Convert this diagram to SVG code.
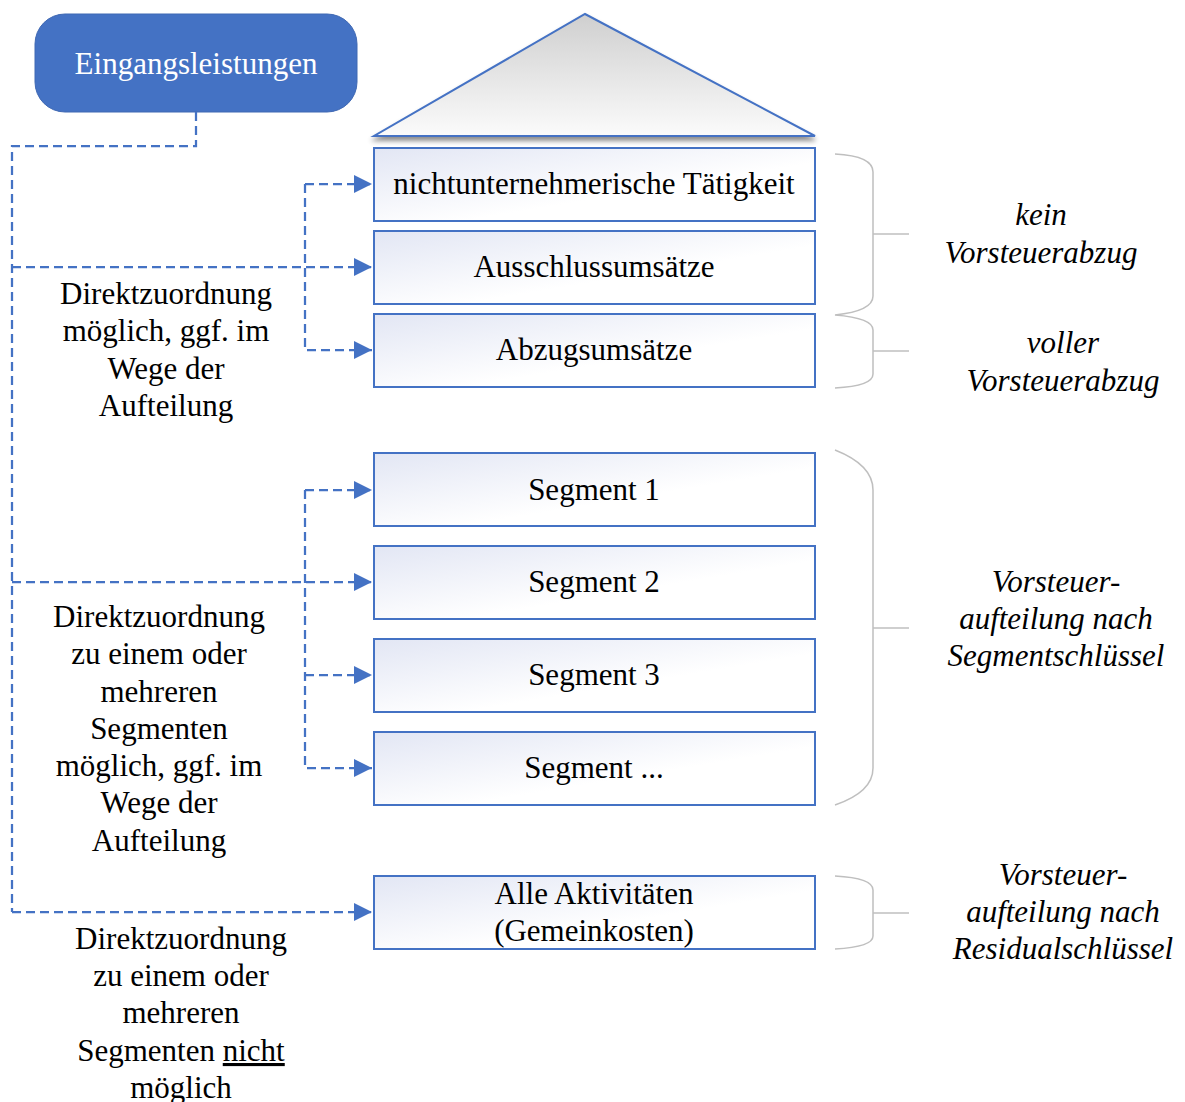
<svg xmlns="http://www.w3.org/2000/svg" width="1185" height="1102" viewBox="0 0 1185 1102">
<defs>
<linearGradient id="boxg" x1="0" y1="0" x2="1" y2="1">
<stop offset="0" stop-color="#e2e6f4"/>
<stop offset="0.6" stop-color="#ffffff"/>
<stop offset="1" stop-color="#ffffff"/>
</linearGradient>
<linearGradient id="roofg" x1="0" y1="0" x2="0" y2="1">
<stop offset="0" stop-color="#cfcfcf"/>
<stop offset="1" stop-color="#fbfbfb"/>
</linearGradient>
<filter id="sh" x="-10%" y="-10%" width="120%" height="130%">
<feGaussianBlur in="SourceAlpha" stdDeviation="2.5"/>
<feOffset dx="0" dy="4"/>
<feComponentTransfer><feFuncA type="linear" slope="0.45"/></feComponentTransfer>
<feMerge><feMergeNode/><feMergeNode in="SourceGraphic"/></feMerge>
</filter>
<marker id="arr" viewBox="0 0 18 18" refX="18" refY="9" markerWidth="18" markerHeight="18" markerUnits="userSpaceOnUse" orient="auto">
<path d="M0,0 L18,9 L0,18 Z" fill="#4472C4"/>
</marker>
</defs>
<style>
.box{fill:url(#boxg);stroke:#4472C4;stroke-width:2}
.con{fill:none;stroke:#4472C4;stroke-width:2.25;stroke-dasharray:9,5}
.br{fill:none;stroke:#bfbfbf;stroke-width:1.5}
</style>

<g id="eingang">
<rect x="35" y="14" width="322" height="98" rx="30" ry="30" fill="#4472C4" stroke="#3f68b3" stroke-width="1"/>
<text x="196" y="74" font-family="Liberation Serif, serif" font-size="31" fill="#ffffff" text-anchor="middle">Eingangsleistungen</text>
</g>

<g id="roof">
<polygon points="585,14 815,136 374,136" fill="url(#roofg)" stroke="#4472C4" stroke-width="2" filter="url(#sh)"/>
</g>

<g id="nodes" font-family="Liberation Serif, serif" font-size="31" fill="#000000" text-anchor="middle">
<g id="n1"><rect class="box" x="374" y="148" width="441" height="73"/><text x="594" y="194">nichtunternehmerische Tätigkeit</text></g>
<g id="n2"><rect class="box" x="374" y="231" width="441" height="73"/><text x="594" y="277">Ausschlussumsätze</text></g>
<g id="n3"><rect class="box" x="374" y="314" width="441" height="73"/><text x="594" y="360">Abzugsumsätze</text></g>
<g id="s1"><rect class="box" x="374" y="453" width="441" height="73"/><text x="594" y="500">Segment 1</text></g>
<g id="s2"><rect class="box" x="374" y="546" width="441" height="73"/><text x="594" y="592">Segment 2</text></g>
<g id="s3"><rect class="box" x="374" y="639" width="441" height="73"/><text x="594" y="685">Segment 3</text></g>
<g id="s4"><rect class="box" x="374" y="732" width="441" height="73"/><text x="594" y="778">Segment ...</text></g>
<g id="alle"><rect class="box" x="374" y="876" width="441" height="73"/><text x="594" y="904">Alle Aktivitäten</text><text x="594" y="941">(Gemeinkosten)</text></g>
</g>

<g id="connectors">
<path class="con" d="M196,112 V146 H12 V912"/>
<path class="con" d="M12,267 H372" marker-end="url(#arr)"/>
<path class="con" d="M12,582 H372" marker-end="url(#arr)"/>
<path class="con" d="M12,912 H372" marker-end="url(#arr)"/>
<path class="con" d="M305,184 H372" marker-end="url(#arr)"/>
<path class="con" d="M305,184 V350 H372" marker-end="url(#arr)"/>
<path class="con" d="M305,490 H372" marker-end="url(#arr)"/>
<path class="con" d="M305,490 V768 H372" marker-end="url(#arr)"/>
<path class="con" d="M305,675 H372" marker-end="url(#arr)"/>
</g>

<g id="braces">
<path class="br" d="M835,154 Q873,156 873,172 V296 Q873,311 835,315 Q873,318 873,330 V374 Q873,386 835,388"/>
<line class="br" x1="873" y1="234" x2="909" y2="234"/>
<line class="br" x1="873" y1="351" x2="909" y2="351"/>
<path class="br" d="M835,450 Q873,465 873,490 V768 Q873,792 835,805"/>
<line class="br" x1="873" y1="628" x2="909" y2="628"/>
<path class="br" d="M835,876 Q873,878 873,890 V936 Q873,947 835,949"/>
<line class="br" x1="873" y1="913" x2="909" y2="913"/>
</g>

<g id="right-labels" font-family="Liberation Serif, serif" font-size="31" font-style="italic" fill="#000000" text-anchor="middle">
<text x="1041" y="225">kein</text>
<text x="1041" y="263">Vorsteuerabzug</text>
<text x="1063" y="353">voller</text>
<text x="1063" y="391">Vorsteuerabzug</text>
<text x="1056" y="592">Vorsteuer-</text>
<text x="1056" y="629">aufteilung nach</text>
<text x="1056" y="666">Segmentschlüssel</text>
<text x="1063" y="885">Vorsteuer-</text>
<text x="1063" y="922">aufteilung nach</text>
<text x="1063" y="959">Residualschlüssel</text>
</g>

<g id="left-labels" font-family="Liberation Serif, serif" font-size="31" fill="#000000" text-anchor="middle">
<text x="166" y="304">Direktzuordnung</text>
<text x="166" y="341">möglich, ggf. im</text>
<text x="166" y="379">Wege der</text>
<text x="166" y="416">Aufteilung</text>
<text x="159" y="627">Direktzuordnung</text>
<text x="159" y="664">zu einem oder</text>
<text x="159" y="702">mehreren</text>
<text x="159" y="739">Segmenten</text>
<text x="159" y="776">möglich, ggf. im</text>
<text x="159" y="813">Wege der</text>
<text x="159" y="851">Aufteilung</text>
<text x="181" y="949">Direktzuordnung</text>
<text x="181" y="986">zu einem oder</text>
<text x="181" y="1023">mehreren</text>
<text x="181" y="1061">Segmenten <tspan text-decoration="underline">nicht</tspan></text>
<text x="181" y="1098">möglich</text>
</g>
</svg>
